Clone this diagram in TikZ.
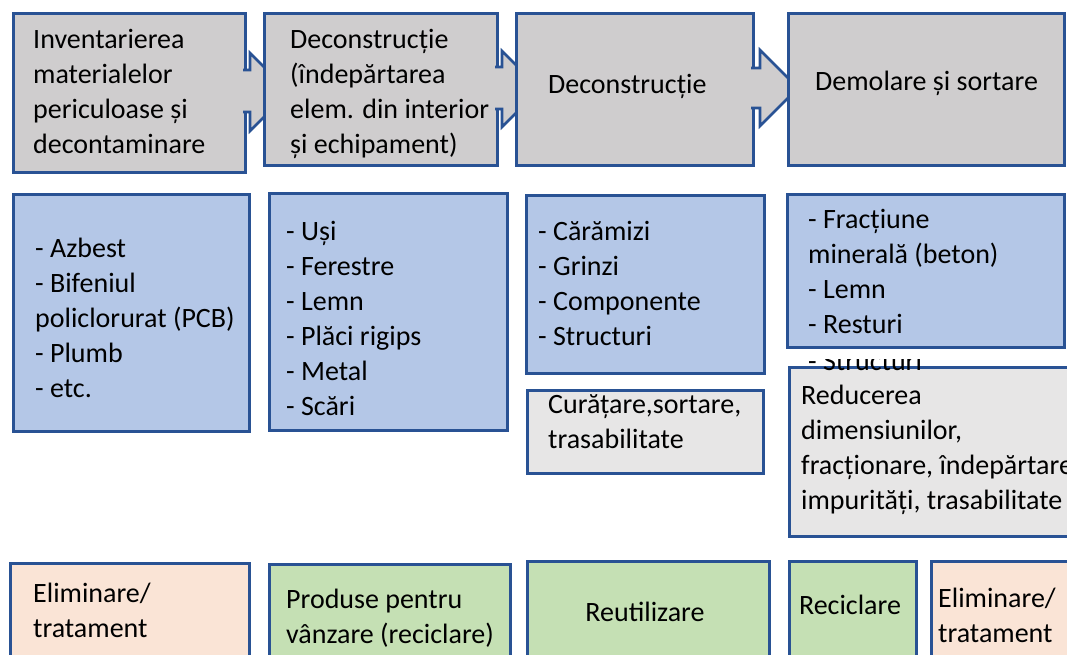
\documentclass[tikz,border=0pt]{standalone}
\usepackage{fontspec}
\setmainfont{Carlito}
\definecolor{bord}{RGB}{41,82,148}
\definecolor{topgray}{RGB}{207,205,206}
\definecolor{bluef}{RGB}{180,199,231}
\definecolor{lgray}{RGB}{231,230,230}
\definecolor{peach}{RGB}{250,228,214}
\definecolor{greenf}{RGB}{197,224,180}
\tikzset{
  box/.style={draw=bord, line width=2.6pt, rectangle, inner sep=0pt, anchor=north west},
  txt/.style={anchor=north west, inner sep=0pt, align=left, text=black, font=\fontsize{28}{35}\selectfont},
  ctxt/.style={anchor=base, inner sep=0pt, text=black, font=\fontsize{28}{35}\selectfont},
  arrfill/.style={fill=topgray},
  arrline/.style={draw=bord, line width=2.6pt, line join=miter},
}
\begin{document}
\begin{tikzpicture}[x=1pt,y=-1pt]
\useasboundingbox (0,0) rectangle (1067,655);

% ---- top row: process steps with block arrows
\node[box, fill=topgray, minimum width=232pt, minimum height=159pt] (b1) at (12,12) {};
\fill[arrfill] (240,70) -- (250,70) -- (250,53) -- (289,92) -- (250,131) -- (250,112) -- (240,112) -- cycle;
\draw[arrline] (243,70) -- (250,70) -- (250,53) -- (289,92) -- (250,131) -- (250,112) -- (243,112);
\node[box, fill=topgray, minimum width=233pt, minimum height=152pt] (b2) at (263,12) {};
\fill[arrfill] (492,67) -- (502,67) -- (502,51) -- (540,89) -- (502,127) -- (502,109) -- (492,109) -- cycle;
\draw[arrline] (495,67) -- (502,67) -- (502,51) -- (540,89) -- (502,127) -- (502,109) -- (495,109);
\node[box, fill=topgray, minimum width=237pt, minimum height=152pt] (b3) at (515,12) {};
\fill[arrfill] (748,68) -- (760,68) -- (760,50) -- (798,88) -- (760,126) -- (760,108) -- (748,108) -- cycle;
\draw[arrline] (751,68) -- (760,68) -- (760,50) -- (798,88) -- (760,126) -- (760,108) -- (751,108);
\node[box, fill=topgray, minimum width=276pt, minimum height=152pt] (b4) at (787,12) {};

\node[txt] (t1) at (33,23.5) {\strut Inventarierea\\\strut materialelor\\\strut periculoase și\\\strut decontaminare};
\node[txt] (t2) at (290,23.5) {\strut Deconstrucție\\\strut (îndepărtarea\\\strut elem. din interior\\\strut și echipament)};
\node[txt] (t3) at (548,68.5) {\strut Deconstrucție};
\node[txt] (t4) at (815,65.5) {\strut Demolare și sortare};

% ---- middle row: materials
\node[box, fill=bluef, minimum width=236pt, minimum height=237pt] (m1) at (12,193) {};
\node[box, fill=bluef, minimum width=238pt, minimum height=237pt] (m2) at (268,192) {};
\node[box, fill=bluef, minimum width=238pt, minimum height=178pt] (m3) at (525,194) {};
\node[box, fill=lgray, minimum width=236pt, minimum height=83pt] (g3) at (526,389) {};
\node[box, fill=bluef, minimum width=277pt, minimum height=153pt] (m4) at (786,193) {};

\node[txt] (u1) at (35,232.5) {\strut - Azbest\\\strut - Bifeniul\\\strut policlorurat (PCB)\\\strut - Plumb\\\strut - etc.};
\node[txt] (u2) at (286,215.5) {\strut - Uși\\\strut - Ferestre\\\strut - Lemn\\\strut - Plăci rigips\\\strut - Metal\\\strut - Scări};
\node[txt] (u3) at (538,215.5) {\strut - Cărămizi\\\strut - Grinzi\\\strut - Componente\\\strut - Structuri};
\node[txt] (u4) at (808,204) {\strut - Fracțiune\\\strut minerală (beton)\\\strut - Lemn\\\strut - Resturi};
\node[txt] (s3) at (548,388.5) {\strut Curățare,sortare,\\\strut trasabilitate};

\node[box, fill=lgray, minimum width=290pt, minimum height=169pt] (g4) at (788,366) {};
% overflowing last line of the blue box, only its lower part shows
\begin{scope}
  \clip (790,359) rectangle (1067,372);
  \node[ctxt, anchor=base west] (u4b) at (808,370) {- Structuri};
\end{scope}
\node[txt] (s4) at (801,379.5) {\strut Reducerea\\\strut dimensiunilor,\\\strut fracționare, îndepărtare\\\strut impurități, trasabilitate};

% ---- bottom row: destinations
\node[box, fill=peach, minimum width=239pt, minimum height=110pt] (d1) at (9,562) {};
\node[box, fill=greenf, minimum width=241pt, minimum height=110pt] (d2) at (268,563) {};
\node[box, fill=greenf, minimum width=242pt, minimum height=110pt] (d3) at (526,560) {};
\node[box, fill=greenf, minimum width=127pt, minimum height=110pt] (d4) at (788,560) {};
\node[box, fill=peach, minimum width=150pt, minimum height=110pt] (d5) at (930,560) {};

\node[txt] (v1) at (33,577.5) {\strut Eliminare/\\\strut tratament};
\node[txt] (v2) at (286,583.5) {\strut Produse pentru\\\strut vânzare (reciclare)};
\node[ctxt] (v3) at (645,621) {Reutilizare};
\node[ctxt] (v4) at (850,614) {Reciclare};
\node[txt] (v5) at (938,582.5) {\strut Eliminare/\\\strut tratament};
\end{tikzpicture}
\end{document}
